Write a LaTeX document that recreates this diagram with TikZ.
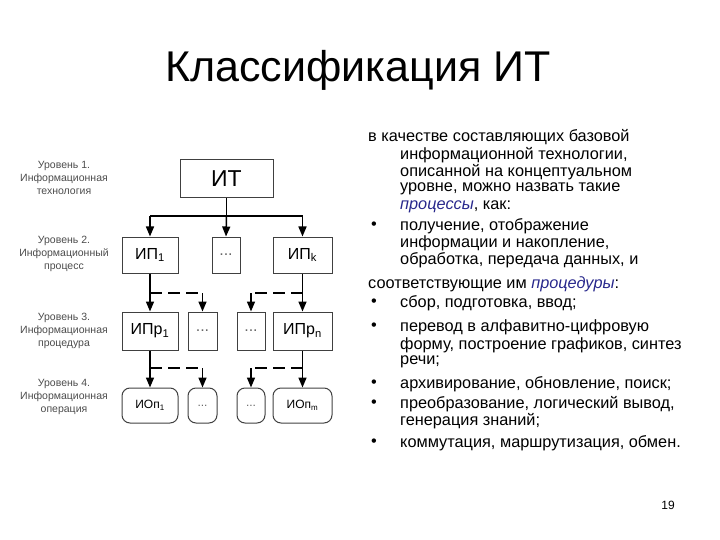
\documentclass[tikz,border=0pt]{standalone}
\usepackage{fontspec}
\setmainfont{Liberation Sans}
\usetikzlibrary{arrows.meta}
\definecolor{itblue}{RGB}{40,40,140}
\tikzset{
 box/.style={draw=black!75,line width=1pt,minimum height=#1,inner sep=0pt,font=\fontsize{16}{18}\selectfont},
 rbox/.style={draw=black!75,line width=1pt,rounded corners=8pt,minimum height=35pt,inner sep=0pt,font=\fontsize{12}{14}\selectfont},
 arr/.style={line width=1.5pt,-{Triangle[width=8pt,length=10pt]}},
 darr/.style={line width=1.5pt,dash pattern=on 12pt off 6pt},
 lvl/.style={align=center,font=\fontsize{10.5}{13}\selectfont,text=black!70},
 txt/.style={anchor=west,font=\fontsize{16.3}{18}\selectfont,inner sep=0pt},
 dots/.style={text=black!60}
}
\begin{document}
\begin{tikzpicture}[x=1pt,y=-1pt]
\useasboundingbox (0,0) rectangle (720,540);
\node[font=\fontsize{43}{48}\selectfont] (title) at (358,70) {Классификация ИТ};
% levels
\node[lvl] (l1) at (64,178) {Уровень 1.\\Информационная\\технология};
\node[lvl] (l2) at (64,254) {Уровень 2.\\Информационный\\процесс};
\node[lvl] (l3) at (64,331) {Уровень 3.\\Информационная\\процедура};
\node[lvl] (l4) at (64,397) {Уровень 4.\\Информационная\\операция};
% boxes
\node[box=38pt,minimum width=93pt,font=\fontsize{23}{25}\selectfont] (it) at (226.5,179) {ИТ};
\node[box=36pt,minimum width=56pt] (ip1) at (150,255) {ИП\textsubscript{1}};
\node[box=36pt,minimum width=28pt,dots] (ipd) at (226,255) {...};
\node[box=36pt,minimum width=59pt] (ipk) at (302.5,255) {ИП\textsubscript{k}};
\node[box=38pt,minimum width=56pt] (pr1) at (150,331) {ИПр\textsubscript{1}};
\node[box=38pt,minimum width=29pt,dots] (prd1) at (202.5,331) {...};
\node[box=38pt,minimum width=28pt,dots] (prd2) at (251,331) {...};
\node[box=38pt,minimum width=59pt] (prn) at (302.5,331) {ИПр\textsubscript{n}};
\node[rbox,minimum width=56pt] (op1) at (150,405.5) {ИОп\textsubscript{1}};
\node[rbox,minimum width=29pt,dots] (opd1) at (202.5,405.5) {...};
\node[rbox,minimum width=28pt,dots] (opd2) at (251,405.5) {...};
\node[rbox,minimum width=59pt] (opm) at (302.5,405.5) {ИОп\textsubscript{m}};
% connectors level1-2
\coordinate (j1) at (226.5,216);
\coordinate (jl) at (150,216);
\coordinate (jr) at (302.5,216);
\draw[line width=1.5pt] (it.south) -- (j1);
\draw[line width=1.5pt] (jl) -- (jr);
\draw[arr] (jl) -- (ip1.north);
\draw[arr] (j1) -- (ipd.north);
\draw[arr] (jr) -- (ipk.north);
% level 2-3
\coordinate (a1) at (150,293);
\coordinate (a2) at (202.5,293);
\coordinate (a3) at (251,293);
\coordinate (a4) at (302.5,293);
\draw[arr] (ip1.south) -- (pr1.north);
\draw[arr] (ipk.south) -- (prn.north);
\draw[darr] (a1) -- (a2);
\draw[arr] (a2) -- (prd1.north);
\draw[darr] (a4) -- (a3);
\draw[arr] (a3) -- (prd2.north);
% level 3-4
\coordinate (b1) at (150,368);
\coordinate (b2) at (202.5,368);
\coordinate (b3) at (251,368);
\coordinate (b4) at (302.5,368);
\draw[arr] (pr1.south) -- (op1.north);
\draw[arr] (prn.south) -- (opm.north);
\draw[darr] (b1) -- (b2);
\draw[arr] (b2) -- (opd1.north);
\draw[darr] (b4) -- (b3);
\draw[arr] (b3) -- (opd2.north);
% text
\node[txt] (t1) at (368,137) {в качестве составляющих базовой};
\node[txt] (t2) at (400,155) {информационной технологии,};
\node[txt] (t3) at (400,172) {описанной на концептуальном};
\node[txt] (t4) at (400,189) {уровне, можно назвать такие};
\node[txt] (t5) at (400,207) {\textcolor{itblue}{\itshape процессы}, как:};
\node[txt] (u1) at (371,226) {•};
\node[txt] (t6) at (400,226) {получение, отображение};
\node[txt] (t7) at (400,243) {информации и накопление,};
\node[txt] (t8) at (400,260) {обработка, передача данных, и};
\node[txt] (t9) at (368,284) {соответствующие им \textcolor{itblue}{\itshape процедуры}:};
\node[txt] (u2) at (371,303) {•};
\node[txt] (t10) at (400,303) {сбор, подготовка, ввод;};
\node[txt] (u3) at (371,327) {•};
\node[txt] (t11) at (400,327) {перевод в алфавитно-цифровую};
\node[txt] (t12) at (400,345) {форму, построение графиков, синтез};
\node[txt] (t13) at (400,362) {речи;};
\node[txt] (u4) at (371,384) {•};
\node[txt] (t14) at (400,384) {архивирование, обновление, поиск;};
\node[txt] (u5) at (371,404) {•};
\node[txt] (t15) at (400,404) {преобразование, логический вывод,};
\node[txt] (t16) at (400,421) {генерация знаний;};
\node[txt] (u6) at (371,443) {•};
\node[txt] (t17) at (400,443) {коммутация, маршрутизация, обмен.};
\node[font=\fontsize{12}{14}\selectfont] (num) at (668,505) {19};
\end{tikzpicture}
\end{document}
